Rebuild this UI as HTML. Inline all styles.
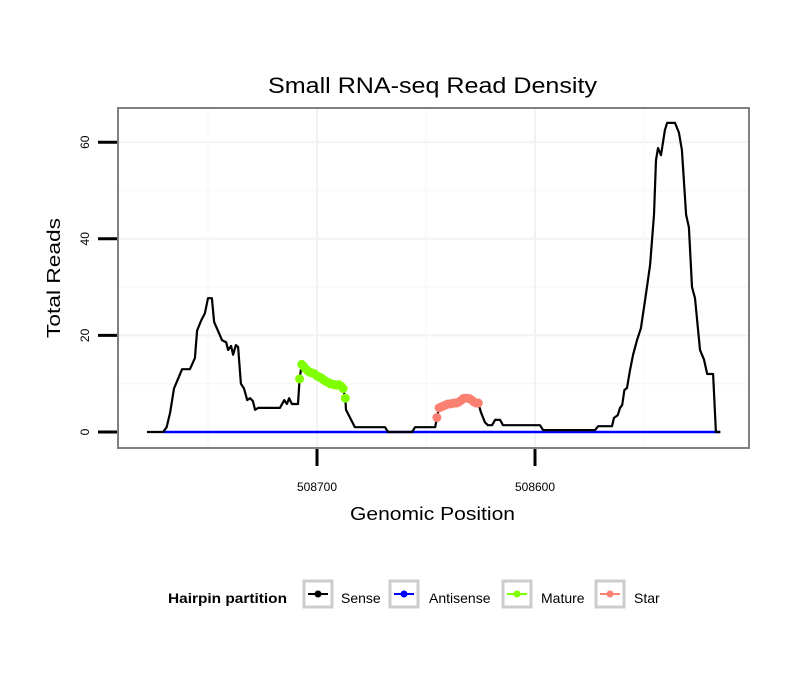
<!DOCTYPE html>
<html><head><meta charset="utf-8"><style>
body{margin:0;background:#fff;}
svg{display:block;font-family:"Liberation Sans",sans-serif;}
</style></head><body>
<svg id="chart" width="810" height="690">
<rect width="810" height="690" fill="#fff"/>
<text x="268" y="93" font-size="22" textLength="329" lengthAdjust="spacingAndGlyphs">Small RNA-seq Read Density</text>
<g id="grid"></g>
<g id="series"></g>
<rect x="118" y="108" width="631" height="340" fill="none" stroke="#808080" stroke-width="2"/>
<g id="axes"></g>
<text x="350" y="520" font-size="18" textLength="165" lengthAdjust="spacingAndGlyphs">Genomic Position</text>
<text transform="translate(60,338) rotate(-90)" font-size="18" textLength="120" lengthAdjust="spacingAndGlyphs">Total Reads</text>
<g>
<text x="168" y="603" font-size="14" font-weight="bold" textLength="119" lengthAdjust="spacingAndGlyphs">Hairpin partition</text>
<g><rect x="304" y="581" width="28" height="26" fill="#fff" stroke="#cccccc" stroke-width="3"/><line x1="308" y1="594" x2="328" y2="594" stroke="#000" stroke-width="2"/><circle cx="318" cy="594" r="3.5" fill="#000"/><text x="341" y="603" font-size="14">Sense</text></g>
<g><rect x="390" y="581" width="28" height="26" fill="#fff" stroke="#cccccc" stroke-width="3"/><line x1="394" y1="594" x2="414" y2="594" stroke="#0000ff" stroke-width="2"/><circle cx="404" cy="594" r="3.5" fill="#0000ff"/><text x="429" y="603" font-size="14">Antisense</text></g>
<g><rect x="503" y="581" width="28" height="26" fill="#fff" stroke="#cccccc" stroke-width="3"/><line x1="507" y1="594" x2="527" y2="594" stroke="#7fff00" stroke-width="2"/><circle cx="517" cy="594" r="3.5" fill="#7fff00"/><text x="541" y="603" font-size="14">Mature</text></g>
<g><rect x="596" y="581" width="28" height="26" fill="#fff" stroke="#cccccc" stroke-width="3"/><line x1="600" y1="594" x2="620" y2="594" stroke="#fa8072" stroke-width="2"/><circle cx="610" cy="594" r="3.5" fill="#fa8072"/><text x="634" y="603" font-size="14">Star</text></g>
</g>
</svg>
<script>
const yTicks=[0,20,40,60];
const xTicks=[508700,508600];
const preSensePos=[508778,508770.6,508769,508767.4,508765.6,508761.9,508758.3,508756,508755,508753.2,508751.4,508750,508748.2,508747.2,508744.5,508743.6,508741.7,508740.8,508739.4,508738.5,508737.2,508736.2,508734.9,508733.5,508732,508730.7,508729.4,508728.4,508727,508717,508715,508713.8,508712.8,508711.5,508708.7];
const preSenseReads=[0,0,1,4,9,13,13,15.3,21,23,24.6,27.7,27.7,22.8,20,19,18.6,17,17.8,16,18,17.6,10,9,6.6,7,6.4,4.6,5,5,6.6,5.8,7,5.8,5.8];
const maturePos=[508708,508707,508706,508705,508704,508703,508702,508701,508700,508699,508698,508697,508696,508695,508694,508693,508692,508691,508690,508689,508688,508687];
const matureReads=[11,14,13.5,13,12.6,12.3,12.2,12,11.6,11.4,11.2,10.8,10.5,10.3,10,9.9,9.8,9.7,9.8,9.5,9,7];
const midSensePos=[508686.7,508682.6,508668.8,508667.4,508656.4,508655,508645.8];
const midSenseReads=[4.6,1,1,0,0,1,1];
const starPos=[508645,508644,508643,508642,508641,508640,508639,508638,508637,508636,508635,508634,508633,508632,508631,508630,508629,508628,508627,508626];
const starReads=[3,5,5.2,5.4,5.6,5.8,5.8,5.9,6,6,6.2,6.5,6.9,7,7,6.9,6.6,6.2,6,6];
const postSensePos=[508624.8,508623,508621.6,508619.7,508618.3,508616,508614.7,508597.7,508596.3,508572.5,508571,508564.7,508563.8,508562,508561,508560,508559,508557.8,508556.4,508555,508553.2,508551.4,508549.5,508547.2,508545.4,508544.5,508543.6,508542.2,508540.4,508539.4,508535.8,508534,508532.6,508530.7,508529.4,508528,508526.6,508524.3,508522.5,508521,508518.3,508517,508515];
const postSenseReads=[4.1,2,1.4,1.4,2.5,2.5,1.4,1.4,0.4,0.4,1.2,1.2,2.9,3.5,5,5.6,8.7,9.1,12.8,16,19,21.5,27.3,34.6,45,56.3,58.8,57.3,62.5,64,64,62,58.4,45,42.4,30,27.7,17,15,12,12,0,0];
const antisensePos=[508770.6,508515];
const antisenseReads=[0,0];

const xs=p=>317+(508700-p)*2.18;
const ys=v=>432-v*4.83;
const NS="http://www.w3.org/2000/svg";
function mk(parent,tag,attrs){const e=document.createElementNS(NS,tag);for(const k in attrs)e.setAttribute(k,attrs[k]);parent.appendChild(e);return e;}
const grid=document.getElementById('grid'),axes=document.getElementById('axes'),series=document.getElementById('series');
yTicks.forEach((t,i)=>{
  const y=ys(t);
  if(t>0){const g=mk(grid,'line',{x1:118,x2:749,y1:y,y2:y,stroke:'#f2f2f2','stroke-width':2});
  
  }
  if(i<yTicks.length-1){const m=mk(grid,'line',{x1:118,x2:749,y1:ys(t+10),y2:ys(t+10),stroke:'#f8f8f8','stroke-width':1.5});
  
  }
  const tk=mk(axes,'line',{x1:98,x2:117,y1:y,y2:y,stroke:'#000','stroke-width':3});
  
  
  const tl=mk(axes,'text',{transform:`translate(89,${y}) rotate(-90)`,'font-size':12,'text-anchor':'middle'});
  tl.textContent=t;
  
  
});
[508750,508650,508550].forEach(p=>{const m=mk(grid,'line',{x1:xs(p),x2:xs(p),y1:108,y2:448,stroke:'#f8f8f8','stroke-width':1.5});

});
xTicks.forEach(t=>{
  const x=xs(t);
  const g=mk(grid,'line',{x1:x,x2:x,y1:108,y2:448,stroke:'#f2f2f2','stroke-width':2});
  
  
  const tk=mk(axes,'line',{x1:x,x2:x,y1:449,y2:466,stroke:'#000','stroke-width':3});
  
  
  const tl=mk(axes,'text',{x:x,y:491,'font-size':12,'text-anchor':'middle'});
  tl.textContent=t;
  
  
});
const sensePos=[].concat(preSensePos,maturePos,midSensePos,starPos,postSensePos);
const senseReads=[].concat(preSenseReads,matureReads,midSenseReads,starReads,postSenseReads);
const pts=(P,R)=>P.map((p,i)=>xs(p).toFixed(1)+','+ys(R[i]).toFixed(1)).join(' ');
const an=mk(series,'polyline',{points:pts(antisensePos,antisenseReads),fill:'none',stroke:'#0000ff','stroke-width':2.5});


const se=mk(series,'polyline',{points:pts(sensePos,senseReads),fill:'none',stroke:'#000','stroke-width':2.2,'stroke-linejoin':'round'});


maturePos.forEach((p,i)=>{const c=mk(series,'circle',{cx:xs(p),cy:ys(matureReads[i]),r:4.5,fill:'#7fff00'});

});
starPos.forEach((p,i)=>{const c=mk(series,'circle',{cx:xs(p),cy:ys(starReads[i]),r:4.5,fill:'#fa8072'});

});
</script>
</body></html>
